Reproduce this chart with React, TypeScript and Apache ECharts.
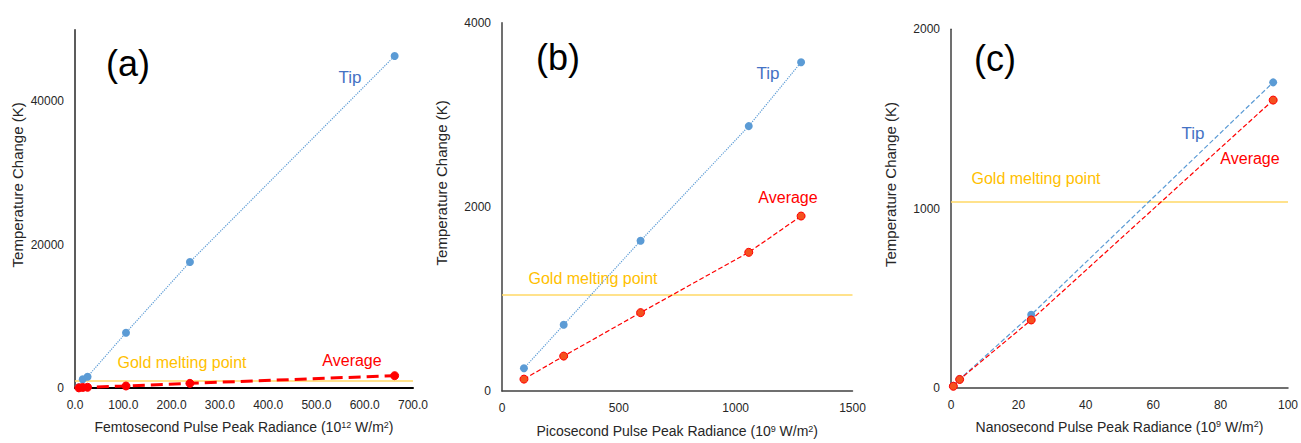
import React, { useEffect, useRef } from "react";
import * as echarts from "echarts";

// Panel (a): femtosecond
const fsRadiance = [8, 16, 26, 105.6, 238, 662];
const fsTip = [100, 1210, 1580, 7720, 17590, 46340];
const fsAvg = [20, 80, 100, 280, 650, 1720];
// Panel (b): picosecond
const psRadiance = [94, 264, 593, 1056, 1280];
const psTip = [247, 719, 1632, 2877, 3571];
const psAvg = [129, 379, 851, 1506, 1900];
// Panel (c): nanosecond
const nsRadiance = [0.7, 2.56, 23.8, 95.6];
const nsTip = [10, 47, 407, 1704];
const nsAvg = [8, 46, 378, 1605];

const goldMeltingPoint = 1040;

const xTitles = [
  "Femtosecond Pulse Peak Radiance (10{sup|12} W/m{sup|2})",
  "Picosecond Pulse Peak Radiance (10{sup|9} W/m{sup|2})",
  "Nanosecond Pulse Peak Radiance (10{sup|9} W/m{sup|2})",
];
const yTitle = "Temperature Change (K)";
const panelLabels = ["(a)", "(b)", "(c)"];

const FONT = "'Liberation Sans', Arial, sans-serif";
const TIP_LINE = "#5B9BD5";
const TIP_TEXT = "#4472C4";
const AVG_RED = "#FF0000";
const AVG_MARK = "#F4511E";
const GOLD_LINE = "#FFD966";
const GOLD_TEXT = "#FFC000";

const pairs = (xs: number[], ys: number[]) => xs.map((x, i) => [x, ys[i]]);

export default function App() {
  const ref = useRef<HTMLDivElement>(null);
  useEffect(() => {
    if (!ref.current) return;
    const chart = echarts.init(ref.current, undefined, { renderer: "svg" });
    const grids = [
      { left: 75, top: 29.7, width: 338, height: 358.3 },
      { left: 502, top: 22.7, width: 350.5, height: 372.6 },
      { left: 951, top: 29.3, width: 337.5, height: 358.4 },
    ];
    const xCfg = [
      { max: 700, interval: 100, fmt: (v: number) => v.toFixed(1), axisColor: "#000", axisW: 2, gap: 32 },
      { max: 1500, interval: 500, fmt: (v: number) => String(v), axisColor: "#404040", axisW: 1.5, gap: 33 },
      { max: 100, interval: 20, fmt: (v: number) => String(v), axisColor: "#404040", axisW: 1.5, gap: 32 },
    ];
    const yCfg = [
      { max: 50000, interval: 20000, axisColor: "#262626" },
      { max: 4000, interval: 2000, axisColor: "#404040" },
      { max: 2000, interval: 1000, axisColor: "#404040" },
    ];
    const xAxis = xCfg.map((c, i) => ({
      type: "value",
      gridIndex: i,
      min: 0,
      max: c.max,
      interval: c.interval,
      splitLine: { show: false },
      axisTick: { show: false },
      axisLine: { show: true, lineStyle: { color: c.axisColor, width: c.axisW } },
      axisLabel: { color: "#262626", fontSize: 12, fontFamily: FONT, margin: 11, formatter: c.fmt },
      name: xTitles[i],
      nameLocation: "middle",
      nameGap: c.gap,
      nameTextStyle: {
        color: "#262626",
        fontSize: 14,
        fontFamily: FONT,
        verticalAlign: "top",
        rich: { sup: { fontSize: 9, verticalAlign: "top", lineHeight: 10, fontFamily: FONT, color: "#262626" } },
      },
    }));
    const yAxis = yCfg.map((c, i) => ({
      type: "value",
      gridIndex: i,
      min: 0,
      max: c.max,
      interval: c.interval,
      splitLine: { show: false },
      axisTick: { show: false },
      axisLine: { show: true, lineStyle: { color: c.axisColor, width: 1.5 } },
      axisLabel: {
        color: "#262626",
        fontSize: 12,
        fontFamily: FONT,
        margin: 11,
        showMaxLabel: i !== 0,
        formatter: (v: number) => String(v),
      },
      name: yTitle,
      nameLocation: "middle",
      nameGap: i === 0 ? 50 : 53,
      nameTextStyle: { color: "#262626", fontSize: 15, fontFamily: FONT, padding: [0, 0, 0, 48] },
    }));

    const tipSeries = (i: number, data: number[][], type: string) => ({
      type: "line",
      xAxisIndex: i,
      yAxisIndex: i,
      data,
      symbol: "circle",
      symbolSize: 8,
      itemStyle: { color: TIP_LINE },
      lineStyle: { color: TIP_LINE, width: 1.2, type },
      z: 3,
    });
    const avgSeries = (i: number, data: number[][], width: number, type: string) => ({
      type: "line",
      xAxisIndex: i,
      yAxisIndex: i,
      data,
      symbol: "circle",
      symbolSize: 8,
      itemStyle: { color: i === 0 ? AVG_RED : AVG_MARK, borderColor: AVG_RED, borderWidth: 1 },
      lineStyle: { color: AVG_RED, width, type },
      z: 4,
      markLine: {
        silent: true,
        symbol: "none",
        label: { show: false },
        lineStyle: { color: GOLD_LINE, width: 1.5, type: "solid" },
        data: [{ yAxis: goldMeltingPoint }],
        z: 2,
      },
    });

    const text = (x: number, y: number, t: string, color: string, size: number) => ({
      type: "text",
      x,
      y,
      style: { text: t, fill: color, fontSize: size, fontFamily: FONT, align: "center", verticalAlign: "middle" },
    });

    chart.setOption({
      animation: false,
      backgroundColor: "#fff",
      grid: grids,
      xAxis,
      yAxis,
      series: [
        tipSeries(0, pairs(fsRadiance, fsTip), "dotted"),
        avgSeries(0, pairs(fsRadiance, fsAvg), 3, "dashed"),
        tipSeries(1, pairs(psRadiance, psTip), "dotted"),
        avgSeries(1, pairs(psRadiance, psAvg), 1.2, "dashed"),
        tipSeries(2, pairs(nsRadiance, nsTip), "dashed"),
        avgSeries(2, pairs(nsRadiance, nsAvg), 1.2, "dashed"),
      ],
      graphic: [
        text(128, 63, panelLabels[0], "#000", 36),
        text(558, 57, panelLabels[1], "#000", 36),
        text(995, 58, panelLabels[2], "#000", 36),
        text(350, 77, "Tip", TIP_TEXT, 17),
        text(182, 362, "Gold melting point", GOLD_TEXT, 16),
        text(352, 360, "Average", AVG_RED, 16),
        text(768, 73, "Tip", TIP_TEXT, 17),
        text(788, 197, "Average", AVG_RED, 16),
        text(593, 278, "Gold melting point", GOLD_TEXT, 16),
        text(1193, 133, "Tip", TIP_TEXT, 17),
        text(1250, 158, "Average", AVG_RED, 16),
        text(1036, 178, "Gold melting point", GOLD_TEXT, 16),
      ],
    });
    return () => chart.dispose();
  }, []);
  return (
    <div
      ref={ref}
      style={{ position: "fixed", left: 0, top: 0, width: 1301, height: 443, background: "#fff" }}
    />
  );
}
